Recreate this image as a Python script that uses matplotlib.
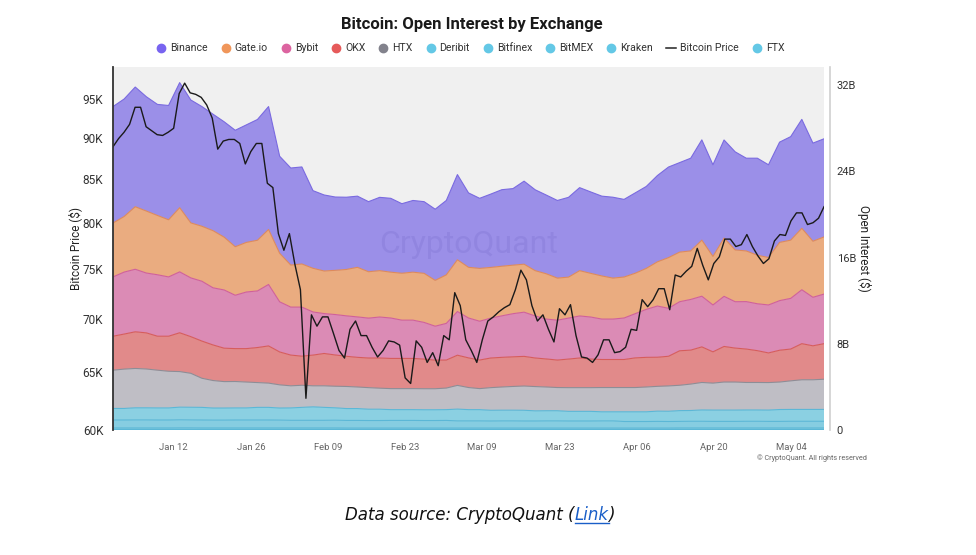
import numpy as np
import pandas as pd
import matplotlib
matplotlib.use("Agg")
import matplotlib.pyplot as plt
from matplotlib.lines import Line2D

plt.rcParams['font.family'] = ['Roboto', 'DejaVu Sans']

# open interest per exchange, billions of USD, sampled every ~2 days
oi_dates = pd.date_range("2026-01-01", "2026-05-10", periods=65)

binance = [10.8, 10.9, 11.1, 10.6, 10.3, 10.6, 11.6, 11.4, 11.1, 10.8, 10.7, 10.8, 10.9, 11.2, 11.4,
           9.0, 9.0, 9.0, 7.2, 7.05, 6.8, 6.7, 6.6, 6.5, 6.8, 6.85, 6.45, 6.65, 6.65, 6.6,
           6.9, 7.9, 6.9, 6.5, 6.8, 7.1, 7.1, 7.7, 7.5, 7.3, 7.2, 7.4, 7.7, 7.55, 7.4,
           7.5, 7.2, 7.45, 7.6, 8.0, 8.4, 8.3, 8.6, 9.3, 8.5, 9.1, 9.1, 8.6, 9.0, 8.6, 9.3, 9.6, 10.1, 9.1, 9.1]
gate = [5.0, 5.15, 5.8, 5.75, 5.5, 5.3, 5.95, 5.1, 5.1, 5.3, 4.9, 4.5, 4.6, 4.7, 5.1,
        4.5, 3.9, 4.0, 4.05, 3.95, 4.1, 4.3, 4.6, 4.3, 4.3, 4.25, 4.35, 4.45, 4.55, 4.25,
        4.5, 4.8, 4.7, 4.9, 4.7, 4.6, 4.5, 4.45, 4.2, 4.2, 3.9, 3.8, 4.2, 4.05, 4.0,
        3.8, 3.8, 3.75, 3.8, 4.1, 4.7, 4.6, 4.5, 5.2, 4.5, 5.4, 4.8, 4.7, 4.5, 4.4, 5.4, 5.4, 5.7, 5.2, 5.3]
bybit = [5.5, 5.75, 5.8, 5.55, 5.7, 5.5, 5.65, 5.45, 5.55, 5.3, 5.4, 4.95, 5.25, 5.25, 5.7,
         4.65, 4.45, 4.55, 4.0, 3.7, 3.75, 3.75, 3.75, 3.7, 3.8, 3.75, 3.55, 3.55, 3.4, 3.15,
         3.4, 4.05, 3.7, 3.6, 3.7, 3.85, 4.0, 4.1, 3.9, 3.7, 3.7, 3.8, 3.9, 3.9, 3.75,
         3.75, 3.85, 4.1, 4.45, 4.75, 4.45, 4.55, 4.7, 4.7, 4.35, 4.65, 4.3, 4.4, 4.35, 4.45, 4.6, 4.7, 5.0, 4.5, 4.6]
okx = [3.15, 3.25, 3.4, 3.35, 3.15, 3.25, 3.6, 3.4, 3.45, 3.3, 3.1, 3.05, 3.1, 3.25, 3.45,
       3.05, 2.85, 2.7, 2.85, 3.0, 2.9, 2.8, 2.75, 2.75, 2.8, 2.8, 2.8, 2.8, 2.75, 2.65,
       2.6, 2.8, 2.75, 2.65, 2.75, 2.75, 2.75, 2.75, 2.65, 2.6, 2.55, 2.65, 2.75, 2.65, 2.6,
       2.6, 2.6, 2.75, 2.75, 2.7, 2.75, 3.2, 3.15, 3.3, 2.9, 3.3, 3.15, 3.1, 2.95, 2.75, 2.95, 2.95, 3.35, 3.15, 3.3]
htx = [3.55, 3.65, 3.65, 3.6, 3.5, 3.4, 3.3, 3.15, 2.7, 2.55, 2.45, 2.45, 2.4, 2.3, 2.25,
       2.15, 2.05, 2.05, 1.95, 2.0, 2.0, 2.05, 2.0, 2.0, 1.95, 1.95, 1.95, 1.95, 1.95, 1.95,
       2.0, 2.2, 2.05, 1.95, 2.1, 2.15, 2.2, 2.25, 2.25, 2.2, 2.15, 2.2, 2.2, 2.2, 2.25,
       2.25, 2.25, 2.25, 2.3, 2.3, 2.35, 2.35, 2.45, 2.55, 2.5, 2.6, 2.6, 2.55, 2.55, 2.55, 2.55, 2.65, 2.75, 2.75, 2.8]
deribit = [1.07, 1.07, 1.12, 1.12, 1.12, 1.12, 1.17, 1.17, 1.17, 1.12, 1.12, 1.12, 1.12, 1.17, 1.17, 1.12,
           1.15, 1.2, 1.25, 1.2, 1.15, 1.1, 1.1, 1.05, 1.05, 1.0, 1.0, 1.0, 1.0, 1.0, 1.0,
           1.09, 1.04, 1.04, 0.99, 0.99, 0.99, 0.99, 0.94, 0.94, 0.94, 0.89, 0.89, 0.89, 0.84, 0.84,
           0.9, 0.9, 0.9, 0.95, 0.95, 1.0, 1.0, 1.05, 1.05, 1.05, 1.05, 1.05, 1.05, 1.05, 1.1, 1.1, 1.1, 1.1, 1.1]
bitfinex = [0.74, 0.74, 0.75, 0.75, 0.74, 0.74, 0.75, 0.74, 0.74, 0.73, 0.73, 0.74, 0.74, 0.74, 0.74, 0.73,
            0.71, 0.71, 0.71, 0.71, 0.72, 0.71, 0.71, 0.7, 0.7, 0.71, 0.71, 0.71, 0.7, 0.7, 0.71,
            0.67, 0.67, 0.67, 0.66, 0.67, 0.67, 0.66, 0.66, 0.67, 0.67, 0.66, 0.66, 0.66, 0.67, 0.67,
            0.61, 0.61, 0.61, 0.62, 0.61, 0.61, 0.62, 0.62, 0.61, 0.61, 0.61, 0.62, 0.62, 0.61, 0.61, 0.62, 0.62, 0.62, 0.62]
bitmex = [0.13, 0.13, 0.13, 0.13, 0.13, 0.13, 0.14, 0.14, 0.13, 0.13, 0.13, 0.13, 0.13, 0.13, 0.13, 0.13,
          0.13, 0.13, 0.13, 0.13, 0.13, 0.12, 0.12, 0.12, 0.12, 0.12, 0.12, 0.12, 0.12, 0.12, 0.12,
          0.12, 0.12, 0.12, 0.12, 0.12, 0.12, 0.12, 0.12, 0.12, 0.12, 0.12, 0.12, 0.12, 0.12, 0.12,
          0.12, 0.12, 0.12, 0.12, 0.12, 0.13, 0.13, 0.13, 0.13, 0.13, 0.13, 0.13, 0.13, 0.13, 0.13, 0.13, 0.13, 0.13, 0.13]
kraken = [0.06, 0.06, 0.06, 0.06, 0.06, 0.06, 0.06, 0.06, 0.06, 0.06, 0.06, 0.06, 0.06, 0.06, 0.06, 0.06,
          0.06, 0.06, 0.06, 0.06, 0.06, 0.06, 0.06, 0.06, 0.06, 0.06, 0.06, 0.06, 0.06, 0.06, 0.06,
          0.06, 0.06, 0.06, 0.06, 0.06, 0.06, 0.06, 0.06, 0.06, 0.06, 0.06, 0.06, 0.06, 0.06, 0.06,
          0.06, 0.06, 0.06, 0.06, 0.06, 0.06, 0.06, 0.06, 0.06, 0.06, 0.06, 0.06, 0.06, 0.06, 0.06, 0.06, 0.06, 0.06, 0.06]
ftx = [0.0, 0.0, 0.0, 0.0, 0.0, 0.0, 0.0, 0.0, 0.0, 0.0, 0.0, 0.0, 0.0, 0.0, 0.0, 0.0,
       0.0, 0.0, 0.0, 0.0, 0.0, 0.0, 0.0, 0.0, 0.0, 0.0, 0.0, 0.0, 0.0, 0.0, 0.0,
       0.0, 0.0, 0.0, 0.0, 0.0, 0.0, 0.0, 0.0, 0.0, 0.0, 0.0, 0.0, 0.0, 0.0, 0.0,
       0.0, 0.0, 0.0, 0.0, 0.0, 0.0, 0.0, 0.0, 0.0, 0.0, 0.0, 0.0, 0.0, 0.0, 0.0, 0.0, 0.0, 0.0, 0.0]

# daily bitcoin price, USD
price_dates = pd.date_range("2026-01-01", "2026-05-10", freq="D")
btc_price = [88900, 89900, 90700, 91700, 93900, 93900, 91400, 90900, 90400, 90300,
             90700, 91200, 95700, 97100, 95800, 95600, 95200, 94200, 92500, 88600,
             89600, 89800, 89800, 89300, 86800, 88300, 89300, 89300, 84500, 84000,
             78800, 77000, 78800, 75500, 72900, 62700, 70400, 69300, 70200, 70200,
             68600, 67000, 66300, 69000, 69800, 68400, 68400, 67300, 66400, 67000,
             67900, 67800, 67500, 64500, 64000, 67900, 67300, 65900, 66800, 65600,
             68400, 68000, 72600, 71300, 68000, 67000, 65900, 68000, 69800, 70200,
             70700, 71100, 71400, 72900, 74900, 73900, 71300, 69800, 70400, 69000,
             67800, 71000, 70400, 71400, 68400, 66400, 66300, 65900, 66600, 68000,
             68000, 66800, 66900, 67300, 69000, 68900, 71900, 71200, 71900, 73000,
             73000, 70900, 74400, 74200, 74800, 75300, 77200, 75400, 73900, 75600,
             76300, 78200, 78200, 77400, 77600, 78700, 77400, 76400, 75600, 76100,
             78000, 78700, 78600, 80200, 81100, 81100, 79800, 80000, 80500, 81800]

tick_dates = ["2026-01-12", "2026-01-26", "2026-02-09", "2026-02-23", "2026-03-09",
              "2026-03-23", "2026-04-06", "2026-04-20", "2026-05-04"]
price_ticks = [60000, 65000, 70000, 75000, 80000, 85000, 90000, 95000]
oi_ticks = [0, 8, 16, 24, 32]

# stacking order bottom -> top
layers = [ftx, kraken, bitmex, bitfinex, deribit, htx, okx, bybit, gate, binance]
fill_cols = ['#75c3db', '#7ac6dd', '#80c9df', '#86cde1', '#8bd0e2',
             '#bfbec5', '#e18a8a', '#db8bb5', '#eaac80', '#9b8fe8']
edge_cols = ['#5bb7d6', '#5bb7d6', '#5bb7d6', '#5bb7d6', '#5bb7d6',
             '#8e8d96', '#d65c5c', '#d0609a', '#de8a5c', '#7a6ae0']
marker_cols = {"Binance": '#7864f0', "Gate.io": '#f0965a', "Bybit": '#dc64a0', "OKX": '#e65a5a',
               "HTX": '#82828c', "Deribit": '#64c8e6', "Bitfinex": '#64c8e6', "BitMEX": '#64c8e6',
               "Kraken": '#64c8e6', "FTX": '#64c8e6'}

fig = plt.figure(figsize=(9.76, 5.55), dpi=100)
ax = fig.add_axes([0.1158, 0.2252, 0.7285, 0.6541])
ax_p = ax.twinx()

ax.set_facecolor('#f0f0f0')
ax.stackplot(oi_dates, layers, colors=fill_cols, linewidth=0)
tops = np.cumsum(np.array(layers), axis=0)
for top, ec in zip(tops, edge_cols):
    ax.plot(oi_dates, top, color=ec, lw=0.8)
ax.set_xlim(oi_dates[0], oi_dates[-1])
ax.set_ylim(0, 33.67)

ax.yaxis.tick_right()
ax.yaxis.set_label_position('right')
ax.set_yticks(oi_ticks)
ax.set_yticklabels(['0' if v == 0 else f'{v}B' for v in oi_ticks])
ax.set_ylabel('Open Interest ($)', rotation=270, fontsize=8.5, color='#222', va='center')
ax.yaxis.set_label_coords(1.0565, 0.5)
ax.set_xticks(pd.to_datetime(tick_dates))
ax.set_xticklabels([pd.Timestamp(d).strftime('%b %d') for d in tick_dates])
ax.tick_params(axis='x', length=0, pad=9, labelsize=6.8, labelcolor='#666')
ax.tick_params(axis='y', length=0, pad=5, labelsize=8.0, labelcolor='#333')
for s in ['top', 'left', 'bottom']:
    ax.spines[s].set_visible(False)
ax.spines['right'].set_position(('outward', 4))
ax.spines['right'].set_color('#cfcfcf')
ax.spines['right'].set_linewidth(1.2)

ax.text(0.5, 0.51, 'CryptoQuant', transform=ax.transAxes, ha='center', va='center',
        fontsize=23, color='#6a60c0', alpha=0.2, zorder=5)

ax_p.plot(price_dates, btc_price, color='#1a1a1a', lw=1.0)
ax_p.set_yscale('log')
ax_p.set_ylim(60000, 99300)
ax_p.yaxis.tick_left()
ax_p.yaxis.set_label_position('left')
ax_p.set_yticks(price_ticks)
ax_p.set_yticklabels([f'{v // 1000}K' for v in price_ticks])
ax_p.yaxis.set_minor_locator(matplotlib.ticker.NullLocator())
ax_p.set_ylabel('Bitcoin Price ($)', fontsize=8.5, color='#222', va='center')
ax_p.yaxis.set_label_coords(-0.0535, 0.5)
ax_p.tick_params(axis='y', length=0, pad=7, labelsize=8.5, labelcolor='#333')
for s in ['top', 'right', 'bottom']:
    ax_p.spines[s].set_visible(False)
ax_p.spines['left'].set_color('#333333')
ax_p.spines['left'].set_linewidth(1.3)

# legend
legend_order = ["Binance", "Gate.io", "Bybit", "OKX", "HTX", "Deribit", "Bitfinex", "BitMEX",
                "Kraken", "Bitcoin Price", "FTX"]
handles = []
for name in legend_order:
    if name == "Bitcoin Price":
        handles.append(Line2D([], [], color='#222', lw=1.1))
    else:
        handles.append(Line2D([], [], marker='o', ls='', ms=6, color=marker_cols[name]))
fig.legend(handles, legend_order, loc='center', bbox_to_anchor=(0.482, 0.913), ncol=11,
           frameon=False, fontsize=7.6, handlelength=0.9, handletextpad=0.4, columnspacing=1.25,
           labelcolor='#333')

fig.text(0.4836, 0.955, 'Bitcoin: Open Interest by Exchange', ha='center', va='center',
         fontsize=12, fontweight='bold', color='#1a1a1a')
fig.text(0.888, 0.174, '\u00a9 CryptoQuant. All rights reserved', ha='right', va='center',
         fontsize=5.2, color='#666')

# caption with a link-styled word
fig.canvas.draw()
renderer = fig.canvas.get_renderer()
parts = [('Data source: CryptoQuant (', '#111111'), ('Link', '#1a5fc8'), (')', '#111111')]
texts = [fig.text(0, 0.072, s, color=c, style='italic', fontsize=12, va='center',
                  family=['DejaVu Sans']) for s, c in parts]
widths = [t.get_window_extent(renderer).width for t in texts]
x = 480 - sum(widths) / 2
for t, w in zip(texts, widths):
    t.set_x(x / 976)
    x += w
link_box = texts[1].get_window_extent(renderer)
fig.add_artist(Line2D([link_box.x0 / 976, link_box.x1 / 976],
                      [(link_box.y0 + 1) / 555, (link_box.y0 + 1) / 555],
                      color='#1a5fc8', lw=1.0))

fig.savefig('out.png', dpi=100)
